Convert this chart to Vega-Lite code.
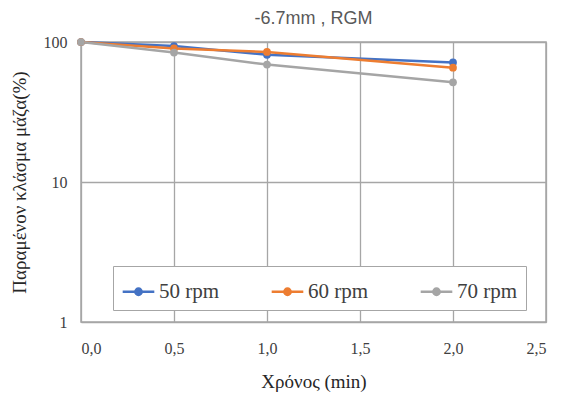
{
  "$schema": "https://vega.github.io/schema/vega-lite/v6.json",
  "autosize": "none",
  "width": 465,
  "height": 280,
  "padding": {"left": 81, "top": 42, "right": 15, "bottom": 74},
  "background": "white",
  "title": {"text": "-6.7mm , RGM", "font": "Liberation Sans", "fontSize": 18, "fontWeight": "normal", "color": "#595959", "offset": 6, "dx": 0},
  "config": {
    "view": {"stroke": "#a6a6a6", "strokeWidth": 1.5},
    "axis": {"gridColor": "#a6a6a6", "gridWidth": 1.3, "domainColor": "#a6a6a6", "ticks": false, "labelFont": "Liberation Serif", "labelFontSize": 16, "labelColor": "#404040", "titleFont": "Liberation Serif", "titleFontSize": 19, "titleFontWeight": "normal", "titleColor": "#262626"}
  },
  "data": {"values": [
    {"t": 0.0, "v": 100, "s": "50 rpm"},
    {"t": 0.5, "v": 93.5, "s": "50 rpm"},
    {"t": 1.0, "v": 81, "s": "50 rpm"},
    {"t": 2.0, "v": 71.5, "s": "50 rpm"},
    {"t": 0.0, "v": 100, "s": "60 rpm"},
    {"t": 0.5, "v": 90, "s": "60 rpm"},
    {"t": 1.0, "v": 85, "s": "60 rpm"},
    {"t": 2.0, "v": 65.5, "s": "60 rpm"},
    {"t": 0.0, "v": 100, "s": "70 rpm"},
    {"t": 0.5, "v": 84, "s": "70 rpm"},
    {"t": 1.0, "v": 69, "s": "70 rpm"},
    {"t": 2.0, "v": 51.5, "s": "70 rpm"}
  ]},
  "mark": {"type": "line", "strokeWidth": 2.5, "point": {"size": 60, "filled": true}},
  "encoding": {
    "x": {"field": "t", "type": "quantitative", "scale": {"domain": [0, 2.5], "nice": false}, "axis": {"values": [0, 0.5, 1, 1.5, 2, 2.5], "labelExpr": "replace(format(datum.value, '.1f'), '.', ',')", "title": "Χρόνος (min)", "labelPadding": 18, "titlePadding": 16, "grid": true}},
    "y": {"field": "v", "type": "quantitative", "scale": {"type": "log", "domain": [1, 100], "nice": false}, "axis": {"values": [1, 10, 100], "format": "d", "title": "Παραμένον κλάσμα μάζα(%)", "labelPadding": 14, "titlePadding": 14, "grid": true}},
    "color": {"field": "s", "type": "nominal", "scale": {"domain": ["50 rpm", "60 rpm", "70 rpm"], "range": ["#4472C4", "#ED7D31", "#A5A5A5"]},
      "legend": {"title": null, "orient": "none", "legendX": 32, "legendY": 224, "direction": "horizontal", "fillColor": "white", "strokeColor": "#a6a6a6", "padding": 8, "labelFont": "Liberation Serif", "labelFontSize": 21, "labelColor": "#404040", "columnPadding": 46, "symbolType": "M-1,0H1M-0.2,0A0.2,0.2 0 1,1 0.2,0A0.2,0.2 0 1,1 -0.2,0", "symbolSize": 1000, "symbolStrokeWidth": 2.5, "labelOffset": 3, "labelLimit": 300}}
  }
}
